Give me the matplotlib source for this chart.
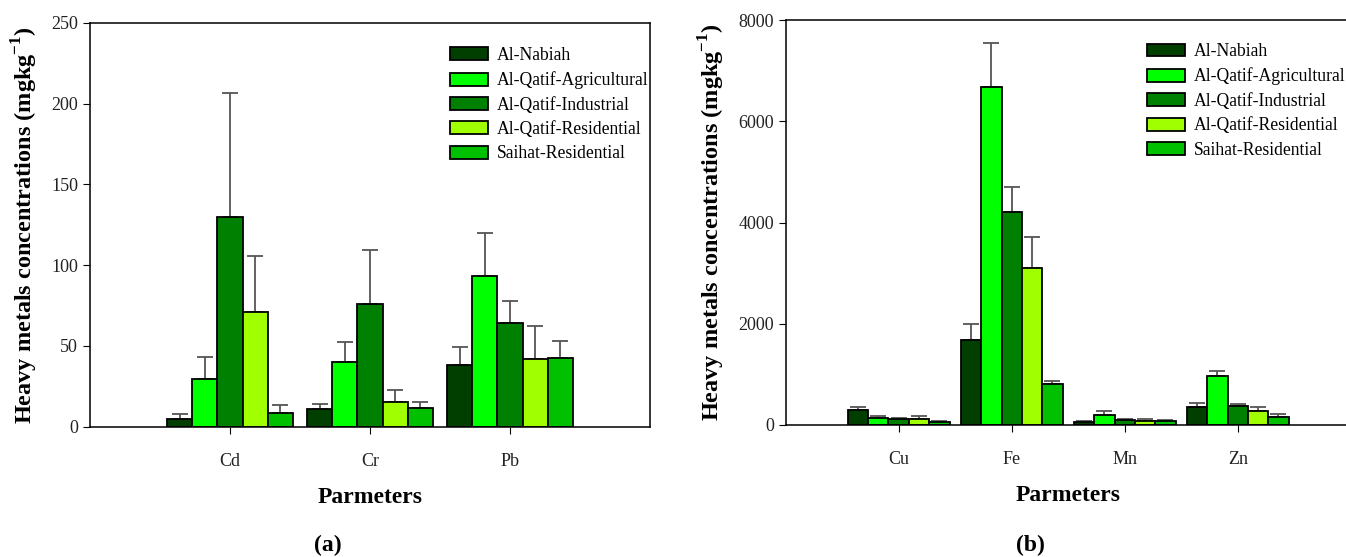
import matplotlib.pyplot as plt
import numpy as np

sites = ['Al-Nabiah', 'Al-Qatif-Agricultural', 'Al-Qatif-Industrial',
         'Al-Qatif-Residential', 'Saihat-Residential']
colors = ['#003f00', '#00ff00', '#008000', '#a0ff00', '#00c000']

# panel (a)
metals_a = ['Cd', 'Cr', 'Pb']
means_a = [
    [4.6, 10.7, 38.2],
    [29.6, 39.9, 93.2],
    [129.6, 76.1, 64.3],
    [70.8, 15.6, 42.1],
    [8.6, 11.4, 42.5],
]
tops_a = [
    [7.7, 14.3, 49.6],
    [43.4, 52.6, 120.0],
    [206.4, 109.2, 77.9],
    [105.9, 23.0, 62.3],
    [13.4, 15.6, 52.9],
]

# panel (b)
metals_b = ['Cu', 'Fe', 'Mn', 'Zn']
means_b = [
    [288, 1679, 56, 351],
    [147, 6672, 204, 962],
    [112, 4214, 105, 379],
    [112, 3104, 84, 274],
    [63, 800, 70, 161],
]
tops_b = [
    [358, 2002, 70, 428],
    [169, 7543, 267, 1060],
    [133, 4705, 119, 407],
    [176, 3708, 126, 358],
    [77, 878, 98, 218],
]

plt.rcParams['font.family'] = ['Liberation Serif', 'DejaVu Serif']

fig = plt.figure(figsize=(13.46, 5.57), dpi=100)
ax1 = fig.add_axes([0.0669, 0.2339, 0.4160, 0.7253])
ax2 = fig.add_axes([0.5837, 0.2370, 0.4198, 0.7270])


def draw_panel(ax, metals, means, tops, ymax, yticks, leg_anchor):
    x = np.arange(1, len(metals) + 1)
    w = 0.18
    for i, site in enumerate(sites):
        pos = x + (i - 2) * w
        m = np.array(means[i])
        err = np.array(tops[i]) - m
        ax.bar(pos, m, width=w, color=colors[i], edgecolor='black',
               linewidth=1.3, label=site, zorder=2)
        ax.errorbar(pos, m, yerr=[np.zeros_like(err), err], fmt='none',
                    ecolor='#555555', elinewidth=1.3, capsize=6,
                    capthick=1.3, zorder=1)
    ax.set_xlim(0, len(metals) + 1)
    ax.set_ylim(0, ymax)
    ax.set_xticks(x)
    ax.set_xticklabels(metals, fontsize=13, color='#222222')
    ax.set_yticks(yticks)
    ax.tick_params(axis='y', labelsize=13, labelcolor='#222222',
                   direction='out', length=5)
    ax.tick_params(axis='x', direction='out', length=5, pad=14)
    for s in ax.spines.values():
        s.set_linewidth(1.1)
    ax.set_xlabel('Parmeters', fontsize=17, fontweight='bold', labelpad=12)
    ax.set_ylabel('Heavy metals concentrations (mgkg$^{\\mathregular{-1}}$)',
                  fontsize=17.5, fontweight='bold', labelpad=8)
    ax.legend(loc='upper left', bbox_to_anchor=leg_anchor, frameon=False,
              fontsize=12.7, handlelength=2.15, handleheight=0.75,
              handletextpad=0.5, labelspacing=0.42, borderpad=0,
              borderaxespad=0)


draw_panel(ax1, metals_a, means_a, tops_a, 250, np.arange(0, 251, 50),
           (0.643, 0.94))
draw_panel(ax2, metals_b, means_b, tops_b, 8000, np.arange(0, 8001, 2000),
           (0.639, 0.943))

fig.text(0.2437, 0.02, '(a)', fontsize=17, fontweight='bold',
         ha='center', va='center')
fig.text(0.7652, 0.02, '(b)', fontsize=17, fontweight='bold',
         ha='center', va='center')

fig.savefig('out.png', dpi=100)
